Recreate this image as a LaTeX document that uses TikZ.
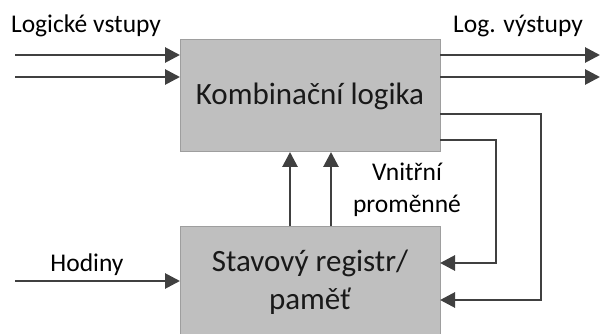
\documentclass[tikz,border=0pt]{standalone}
\usepackage{fontspec}
\setmainfont{Carlito}
\usetikzlibrary{arrows.meta}
\begin{document}
\begin{tikzpicture}[x=1pt,y=-1pt,
  box/.style={draw=black!38, fill=black!25, line width=1pt, inner sep=0pt, outer sep=0pt},
  conn/.style={draw=black!75, line width=2.8pt, -{Triangle[length=15pt,width=15pt]}},
  lbl/.style={font=\fontsize{25.5}{30}\selectfont, text=black, inner sep=0pt, anchor=base},
  boxtext/.style={font=\fontsize{31}{38}\selectfont, text=black!90, align=center}]
\useasboundingbox (0,0) rectangle (600,334);
\clip (0,0) rectangle (600,334);
\node[box, boxtext, minimum width=260pt, minimum height=112pt] (komb) at (310,96) {Kombinační logika};
\node[box, boxtext, minimum width=260pt, minimum height=112pt] (reg) at (310,282) {Stavový registr/\\paměť};
% inputs
\coordinate (in1) at (15,55);
\coordinate (in2) at (15,77);
\draw[conn] (in1) -- (in1 -| komb.west);
\draw[conn] (in2) -- (in2 -| komb.west);
% outputs
\coordinate (out1) at (600,55);
\coordinate (out2) at (600,77);
\draw[conn] (out1 -| komb.east) -- (out1);
\draw[conn] (out2 -| komb.east) -- (out2);
% feedback
\coordinate (f1) at (496,140);
\coordinate (r1) at (0,263);
\coordinate (f2) at (541,114);
\coordinate (r2) at (0,300);
\draw[conn] (f1 -| komb.east) -- (f1) |- (r1 -| reg.east);
\draw[conn] (f2 -| komb.east) -- (f2) |- (r2 -| reg.east);
% up arrows
\coordinate (u1) at (290,0);
\coordinate (u2) at (331,0);
\draw[conn] (u1 |- reg.north) -- (u1 |- komb.south);
\draw[conn] (u2 |- reg.north) -- (u2 |- komb.south);
% clock
\coordinate (clk) at (15,281);
\draw[conn] (clk) -- (clk -| reg.west);
% labels
\node[lbl] (lin) at (86,33) {Logické vstupy};
\node[lbl] (lout) at (518,33) {Log. výstupy};
\node[lbl] (lclk) at (87,271) {Hodiny};
\node[lbl] (lv1) at (407,181) {Vnitřní};
\node[lbl] (lv2) at (407,212) {proměnné};
\end{tikzpicture}
\end{document}
